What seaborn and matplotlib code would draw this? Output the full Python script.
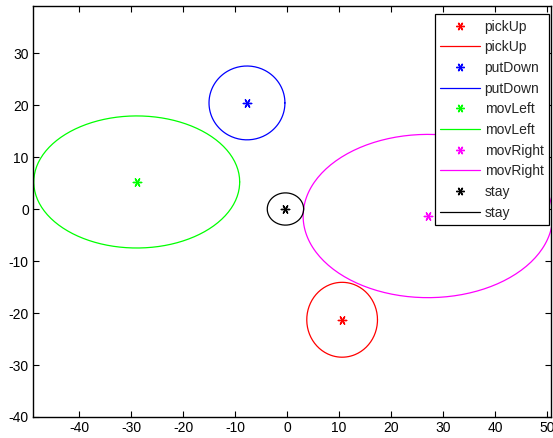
import numpy as np
import pandas as pd
import matplotlib
matplotlib.use("Agg")
import matplotlib.pyplot as plt
import seaborn as sns

# ---- data ----
classes = ["pickUp", "putDown", "movLeft", "movRight", "stay"]
colors = ["#ff0000", "#0000ff", "#00ff00", "#ff00ff", "#000000"]
center_x = [10.6, -7.7, -28.9, 27.1, -0.3]
center_y = [-21.3, 20.4, 5.2, -1.35, 0.0]
radius_x = [6.8, 7.3, 19.8, 24.0, 3.5]
radius_y = [7.2, 7.1, 12.7, 15.7, 3.1]
x_ticks = [-40, -30, -20, -10, 0, 10, 20, 30, 40, 50]
y_ticks = [-40, -30, -20, -10, 0, 10, 20, 30]

sns.set_theme(style="white")
plt.rcParams["font.family"] = ["Liberation Sans", "DejaVu Sans"]
plt.rcParams["axes.unicode_minus"] = False

fig = plt.figure(figsize=(5.53, 4.38), dpi=100)
ax = fig.add_axes([33 / 553, 21 / 438, 518 / 553, 411 / 438])

centers = pd.DataFrame({"cls": classes, "x": center_x, "y": center_y})
t = np.linspace(0, 2 * np.pi, 200)
rows = []
for c, cx, cy, rx, ry in zip(classes, center_x, center_y, radius_x, radius_y):
    for i, tt in enumerate(t):
        rows.append({"cls": c, "order": i, "x": cx + rx * np.cos(tt), "y": cy + ry * np.sin(tt)})
ellipses = pd.DataFrame(rows)

asterisk = (6, 2, 90)

handles = []
labels = []
for c, col in zip(classes, colors):
    sub_c = centers[centers.cls == c]
    sns.scatterplot(data=sub_c, x="x", y="y", marker=asterisk, color=col, s=36,
                    linewidth=1.0, edgecolor=col, ax=ax, legend=False)
    sub_e = ellipses[ellipses.cls == c]
    sns.lineplot(data=sub_e, x="x", y="y", sort=False, estimator=None,
                 color=col, linewidth=0.9, ax=ax, legend=False)
    mh = matplotlib.lines.Line2D([], [], marker=asterisk, color=col, linestyle="none",
                                 markersize=6, markeredgewidth=1.0)
    lh = matplotlib.lines.Line2D([], [], color=col, linewidth=0.9)
    handles += [mh, lh]
    labels += [c, c]

ax.set_xlim(-48.85, 50.77)
ax.set_ylim(-40.0, 39.04)
ax.set_xticks(x_ticks)
ax.set_yticks(y_ticks)
ax.set_xlabel("")
ax.set_ylabel("")
ax.tick_params(direction="in", length=4, width=0.8, colors="black",
               labelsize=10, top=True, right=True, bottom=True, left=True, pad=3)
for s in ax.spines.values():
    s.set_color("black")
    s.set_linewidth(1.0)
    s.set_visible(True)

leg = fig.legend(handles, labels, loc="upper right",
                 bbox_to_anchor=(549 / 553, (438 - 14) / 438),
                 fontsize=10, frameon=True, fancybox=False, shadow=False,
                 framealpha=1, edgecolor="black", handlelength=2.9,
                 handletextpad=0.3, labelspacing=0.48, borderpad=0.4,
                 borderaxespad=0)
leg.get_frame().set_linewidth(0.9)

fig.savefig("out.png", dpi=100)
